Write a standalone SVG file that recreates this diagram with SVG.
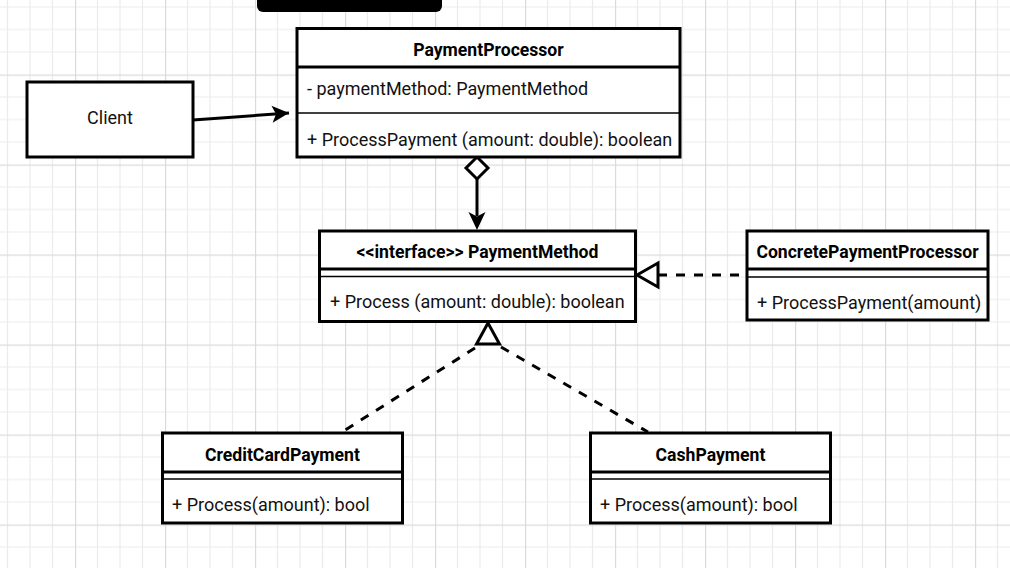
<svg xmlns="http://www.w3.org/2000/svg" width="1010" height="568" viewBox="0 0 1010 568">
<defs>
<pattern id="grid" patternUnits="userSpaceOnUse" x="-15" y="-15.5" width="90" height="90">
<path d="M22.5 0V90M45 0V90M67.5 0V90M0 22.5H90M0 45H90M0 67.5H90" stroke="#ebebeb" stroke-width="1.2" fill="none"/>
<path d="M0.5 0V90M0 0.5H90" stroke="#dadada" stroke-width="1.4" fill="none"/>
</pattern>
<marker id="classic" viewBox="0 0 20 20" refX="18" refY="10" markerWidth="20" markerHeight="20" markerUnits="userSpaceOnUse" orient="auto">
<path d="M18 10L1 1.5L5 10L1 18.5Z" fill="#000"/>
</marker>
</defs>
<style>
.box{fill:#fff;stroke:#000;stroke-width:3}
.hd{stroke:#000;stroke-width:3}
.th{stroke:#000;stroke-width:1.5}
.t{font-family:Roboto,"Liberation Sans",sans-serif;font-size:18px;fill:#111}
.b{font-family:Roboto,"Liberation Sans",sans-serif;font-size:17.6px;font-weight:bold;fill:#000;text-anchor:middle}
.e{stroke:#000;stroke-width:3;fill:none}
.d{stroke:#000;stroke-width:3;fill:none;stroke-dasharray:9 9}
.open{fill:#fff;stroke:#000;stroke-width:3}
</style>
<rect width="1010" height="568" fill="#fff"/>
<rect width="1010" height="568" fill="url(#grid)"/>
<rect x="257" y="-12" width="185" height="24" rx="6" fill="#000"/>

<g id="connectors">
<line class="e" x1="193" y1="120" x2="289" y2="113" marker-end="url(#classic)"/>
<line class="e" x1="477" y1="179" x2="477" y2="216"/>
<path d="M477 230L468.5 212L477 216.5L485.5 212Z" fill="#000"/>
<polygon class="open" points="477,157 488,168 477,179 466,168"/>
<line class="d" x1="658" y1="275" x2="747" y2="275"/>
<polygon class="open" points="637,275 658,263 658,287"/>
<line class="d" x1="475" y1="348" x2="342" y2="432"/>
<line class="d" x1="501" y1="347" x2="648" y2="432"/>
<polygon class="open" points="488,323 476.5,344 499.5,344"/>
</g>

<g id="client">
<rect class="box" x="27" y="82" width="166" height="75"/>
<text class="t" x="110" y="124" text-anchor="middle">Client</text>
</g>

<g id="paymentProcessor">
<rect class="box" x="297" y="28.5" width="383" height="128.5"/>
<line class="hd" x1="297" y1="67" x2="680" y2="67"/>
<line class="th" x1="297" y1="113" x2="680" y2="113"/>
<text class="b" x="488.5" y="56">PaymentProcessor</text>
<text class="t" x="307" y="95">- paymentMethod: PaymentMethod</text>
<text class="t" x="307" y="146">+ ProcessPayment (amount: double): boolean</text>
</g>

<g id="paymentMethod">
<rect class="box" x="319.5" y="231" width="316" height="90.5"/>
<line class="hd" x1="319.5" y1="269" x2="635.5" y2="269"/>
<line class="th" x1="319.5" y1="276.5" x2="635.5" y2="276.5"/>
<text class="b" x="477.5" y="258">&lt;&lt;interface&gt;&gt; PaymentMethod</text>
<text class="t" x="330" y="308">+ Process (amount: double): boolean</text>
</g>

<g id="concretePaymentProcessor">
<rect class="box" x="747" y="231" width="241" height="89"/>
<line class="hd" x1="747" y1="269" x2="988" y2="269"/>
<line class="th" x1="747" y1="277" x2="988" y2="277"/>
<text class="b" x="867.5" y="258">ConcretePaymentProcessor</text>
<text class="t" x="757" y="309">+ ProcessPayment(amount)</text>
</g>

<g id="creditCardPayment">
<rect class="box" x="162.5" y="433" width="240" height="90"/>
<line class="hd" x1="162.5" y1="472" x2="402.5" y2="472"/>
<line class="th" x1="162.5" y1="479" x2="402.5" y2="479"/>
<text class="b" x="282.5" y="461">CreditCardPayment</text>
<text class="t" x="172" y="511">+ Process(amount): bool</text>
</g>

<g id="cashPayment">
<rect class="box" x="590.5" y="433" width="240" height="90"/>
<line class="hd" x1="590.5" y1="472" x2="830.5" y2="472"/>
<line class="th" x1="590.5" y1="479" x2="830.5" y2="479"/>
<text class="b" x="710.5" y="461">CashPayment</text>
<text class="t" x="600" y="511">+ Process(amount): bool</text>
</g>
</svg>
